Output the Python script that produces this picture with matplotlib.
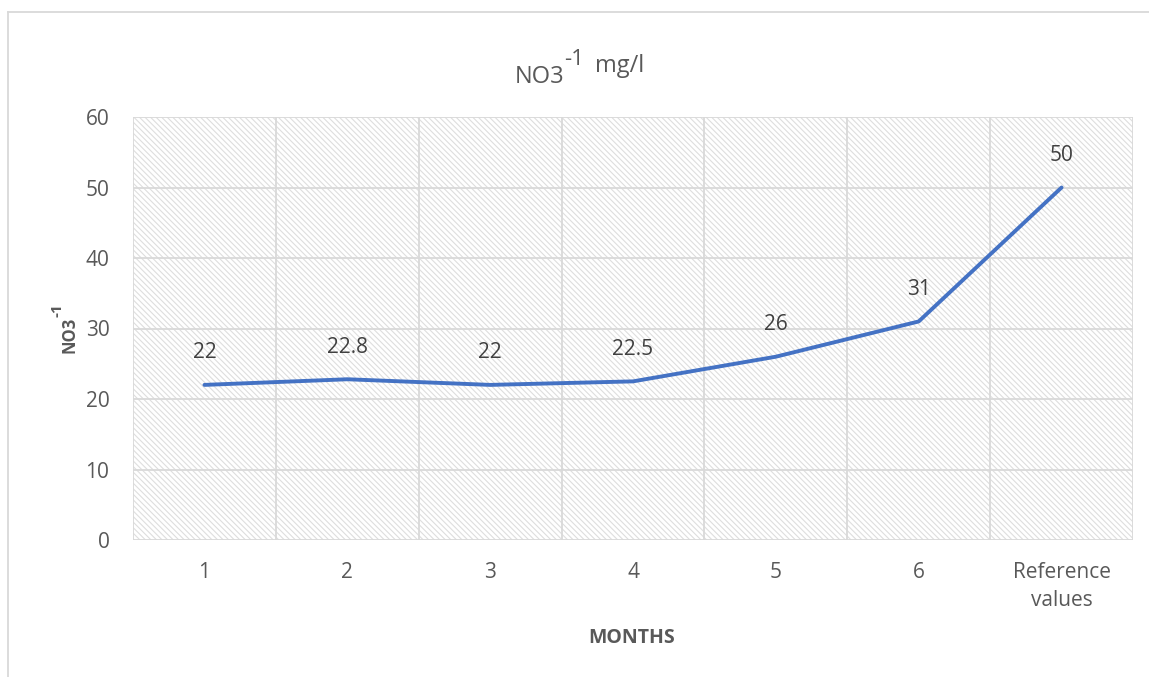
import numpy as np
import matplotlib
matplotlib.use('Agg')
import matplotlib.pyplot as plt
from matplotlib.lines import Line2D

months = ['1', '2', '3', '4', '5', '6', 'Reference\nvalues']
no3 = [22, 22.8, 22, 22.5, 26, 31, 50]
labels = ['22', '22.8', '22', '22.5', '26', '31', '50']
yticks = [0, 10, 20, 30, 40, 50, 60]

plt.rcParams['font.family'] = ['Open Sans', 'DejaVu Sans']
plt.rcParams['hatch.color'] = '#dedede'
plt.rcParams['hatch.linewidth'] = 0.8

txt = '#595959'
grid = '#d9d9d9'
W, H = 1149, 677

fig = plt.figure(figsize=(W / 100, H / 100), dpi=100)
ax = fig.add_axes([133 / W, 1 - 540 / H, 1000 / W, 423 / H])

x = np.arange(1, len(months) + 1)

# hatched plot area
ax.axvspan(0.5, len(months) + 0.5, facecolor='white', edgecolor='#dedede',
           hatch='\\' * 6, linewidth=0, zorder=0)

ax.set_xlim(0.5, len(months) + 0.5)
ax.set_ylim(0, 60)
ax.set_yticks(yticks)
ax.set_xticks(x)
ax.set_xticklabels(months, linespacing=1.45)

for y in yticks:
    ax.axhline(y, color=grid, lw=1.3, zorder=1)
for xv in np.arange(0.5, len(months) + 1, 1):
    ax.axvline(xv, color=grid, lw=1.3, zorder=1)

for s in ax.spines.values():
    s.set_visible(False)
ax.tick_params(axis='both', which='both', length=0, labelsize=15, colors=txt)
ax.tick_params(axis='x', pad=16)
ax.tick_params(axis='y', pad=17)

ax.plot(x, no3, color='#4472C4', lw=2.8, zorder=3, solid_capstyle='round')

for xi, yi, lab in zip(x, no3, labels):
    ax.annotate(lab, (xi, yi), xytext=(0, 23), textcoords='offset points',
                ha='center', va='center', fontsize=15, color='#404040')

# title: NO3 with raised "-1 mg/l"
fig.text(515 / W, 1 - 83 / H, 'NO3', ha='left', va='baseline', fontsize=17, color=txt)
fig.text(564 / W, 1 - 65 / H, '-1', ha='left', va='baseline', fontsize=16, color=txt)
fig.text(595 / W, 1 - 72 / H, 'mg/l', ha='left', va='baseline', fontsize=17, color=txt)

# y axis title
fig.text(70 / W, 1 - 335 / H, 'NO3', rotation=90, ha='center', va='center',
         fontsize=12, fontweight='bold', color=txt)
fig.text(57 / W, 1 - 310 / H, '-1', rotation=90, ha='center', va='center',
         fontsize=11, fontweight='bold', color=txt)

fig.text(632 / W, 1 - 638 / H, 'MONTHS', ha='center', va='center',
         fontsize=14, fontweight='bold', color=txt)

# chart border
fig.add_artist(Line2D([8 / W, 8 / W], [0, 1 - 12 / H], color=grid, lw=1.3))
fig.add_artist(Line2D([8 / W, 1], [1 - 12 / H, 1 - 12 / H], color=grid, lw=1.3))

fig.savefig('out.png', dpi=100)
